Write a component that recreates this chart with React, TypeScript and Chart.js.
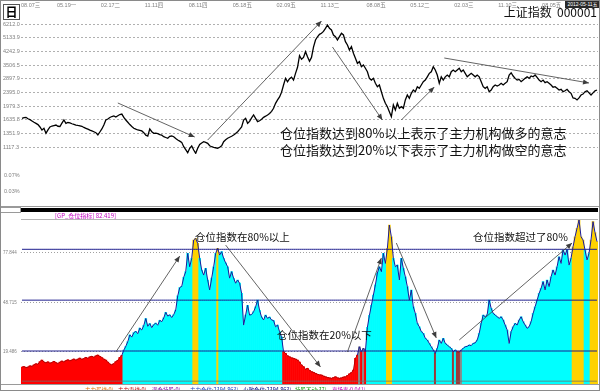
import React, { useEffect, useRef } from "react";
import { Chart, registerables } from "chart.js";
Chart.register(...registerables);

// ---- data ----
const priceTicks = [6212.0, 5647.2, 5133.9, 4667.1, 4242.9, 3857.1, 3506.5, 3187.7, 2897.9, 2634.5, 2395.0, 2177.3, 1979.3, 1799.4, 1635.8, 1487.1, 1351.9, 1229.0, 1117.3, 1015.7];
const volLabels = ["0.07%", "0.03%"];
const dateLabels = ["08.07三", "05.19一", "02.17二", "11.11四", "08.11四", "05.18五", "02.09五", "11.13二", "08.08五", "05.12二", "02.03三", "11.10三", "08.05五"];
const dateIdx = [0, 18, 40, 62, 84, 106, 128, 150, 173, 195, 217, 239, 261];
const lastDate = "2012-05-11五";

const price = [
  1670, 1685, 1693, 1660, 1640, 1610, 1580, 1557, 1530, 1480,
  1419, 1453, 1355, 1420, 1480, 1500, 1510, 1521, 1495, 1490,
  1560, 1631, 1557, 1575, 1565, 1548, 1535, 1521, 1512, 1505,
  1495, 1470, 1453, 1435, 1415, 1400, 1385, 1367, 1324, 1380,
  1440, 1521, 1631, 1655, 1690, 1712, 1725, 1700, 1730, 1760,
  1772, 1690, 1631, 1580, 1530, 1490, 1453, 1435, 1419, 1410,
  1400, 1367, 1320, 1305, 1440, 1386, 1355, 1360, 1350, 1330,
  1320, 1292, 1278, 1265, 1300, 1305, 1292, 1260, 1234, 1215,
  1195, 1124, 1080, 1034, 1100, 1136, 1074, 1025, 1100, 1160,
  1185, 1206, 1195, 1179, 1140, 1124, 1113, 1108, 1100, 1115,
  1140, 1206, 1240, 1265, 1282, 1300, 1324, 1350, 1386, 1430,
  1480, 1631, 1670, 1557, 1600, 1680, 1749, 1670, 1593, 1615,
  1650, 1693, 1720, 1749, 1785, 1840, 1920, 2058, 2157, 2250,
  2400, 2657, 2913, 2780, 2900, 2960, 2843, 3124, 3400, 4000,
  3800, 3900, 4223, 3939, 3700, 3900, 4500, 4971, 5200, 5380,
  5456, 5600, 5850, 6125, 5851, 5714, 5330, 5205, 4971, 5205,
  5456, 5330, 4855, 4637, 4325, 4529, 4130, 3853, 3592, 3675,
  3427, 3509, 3352, 3195, 2913, 2843, 2913, 2719, 2594, 2657,
  2419, 2206, 2058, 1963, 1830, 1707, 2010, 1875, 2058, 1920,
  1963, 1920, 2157, 2310, 2206, 2366, 2477, 2419, 2594, 2536,
  2657, 2780, 2843, 2977, 3124, 3195, 3427, 3273, 3052, 2719,
  2977, 2843, 2977, 3052, 2977, 3195, 3273, 3195, 3273, 3352,
  3195, 3273, 3124, 2977, 3052, 3124, 3052, 2977, 3052, 2977,
  2780, 2594, 2536, 2594, 2419, 2477, 2594, 2657, 2620, 2657,
  2719, 2657, 2719, 2780, 3052, 3150, 3010, 2913, 2843, 2870,
  2780, 2843, 2913, 2977, 2913, 3010, 2977, 3052, 2950, 2843,
  2780, 2843, 2742, 2780, 2719, 2657, 2575, 2594, 2536, 2477,
  2500, 2419, 2450, 2500, 2419, 2366, 2218, 2206, 2157, 2218,
  2310, 2340, 2419, 2450, 2380, 2310, 2380, 2450, 2477,
];

const position = [
  10.5, 10.8, 10.2, 10.5, 11.2, 11, 11.8, 12.5, 12.2, 13.8,
  14.7, 13.5, 13, 13.6, 12.8, 13.2, 13.9, 13.1, 12.6, 13.4,
  14.1, 13.5, 14.3, 14.8, 14.2, 14.7, 15.3, 14.6, 15.2, 15.8,
  15.1, 15.6, 16.2, 15.7, 16.5, 16.9, 16.3, 17.1, 17.6, 16.8,
  16.1, 15.2, 14.6, 13.5, 12.3, 11.8, 12.6, 13.7, 14.5, 16.2,
  17.4, 20.5, 22.8, 25.6, 29.5, 28.2, 30.8, 31.6, 30.2, 33.5,
  32.4, 35.1, 39.2, 34.6, 36.2, 33.8, 35.6, 36.4, 35.2, 38.1,
  37.3, 39.5, 42.8, 40.6, 41.3, 39.8, 41.5, 44.2, 52.5, 57.4,
  58.1, 63.5, 66.8, 77.6, 69.7, 74.7, 85.5, 86.5, 83.5, 74.7,
  67.8, 64.8, 68.8, 61.9, 56, 63, 69.7, 77.6, 80.6, 76.6,
  78.6, 74.7, 72, 69.7, 63, 66.8, 62.9, 60, 61.9, 60,
  54, 35.3, 41.2, 47, 41.2, 41.5, 43.2, 46, 50, 44,
  40, 38.3, 41.2, 39.3, 40, 38.3, 38, 34.3, 35.3, 31.4,
  28.4, 19.6, 18.6, 17.2, 16.6, 16, 15.7, 15.2, 14.7, 13.5,
  11.7, 10.8, 9.2, 9.8, 8.6, 7.8, 7.4, 6.8, 6.3, 5.9,
  5.8, 5.2, 4.8, 4.4, 4.1, 3.9, 4.3, 4.8, 4.2, 3.9,
  4.1, 4.6, 4.8, 5.5, 6.5, 7.2, 8.8, 15.7, 17.6, 22.5,
  19.6, 21.6, 19.8, 34, 41, 47, 53, 59, 66, 69.7,
  66.8, 77.6, 71.7, 80.5, 94.3, 87.4, 74.7, 69.7, 70.7, 61.9,
  74.7, 68.8, 63.8, 58, 50, 56, 46, 42.2, 36.3, 34.3,
  31.4, 30.4, 27.5, 26.5, 24.5, 22.5, 20.6, 18.6, 21.6, 26.5,
  24.5, 27.5, 24.5, 23.5, 22.5, 21.6, 19.6, 20.6, 19.6, 19.4,
  20.6, 21.6, 22.5, 22.8, 23.5, 23.2, 24.5, 24.8, 26.5, 30.4,
  36.3, 41.2, 40.2, 41.5, 50, 45.2, 42.2, 41.2, 40.2, 39.3,
  40.2, 38.3, 35.3, 32.4, 24.5, 31.4, 34.3, 36.3, 35.3, 38.3,
  40.2, 37.3, 35.3, 33.4, 34.3, 37.3, 42.2, 46.1, 50, 54,
  57, 60.9, 56, 61.9, 58, 63.8, 67.8, 64.8, 69.7, 75.6,
  71.7, 79.6, 76.6, 79.8, 70.7, 74.7, 81.5, 87.4, 92.4, 97.3,
  87.4, 85.5, 79.6, 73.7, 77.6, 85.5, 96.3, 89.9, 84.5,
];

const posTicks = [77.844, 48.715, 19.486];
const levels = [80, 50, 20];
const baseLevel = 2.2;
const highLevel = 80;
const lowLevel = 20;
const grayIdx = [169, 171, 220];
const brownIdx = [207, 216, 218, 219];

// arrows in data space: [index, value]
const topArrows = [
  { from: [48, 2067], to: [86.5, 1287] },
  { from: [93, 1234], to: [150, 6477] },
  { from: [155.5, 4510], to: [180.5, 1631] },
  { from: [190, 1631], to: [206.5, 2583] },
  { from: [211.5, 3868], to: [284, 2731] },
];
const bottomArrows = [
  { from: [47, 19.4], to: [79, 76.0] },
  { from: [102, 82.5], to: [149.5, 10.6] },
  { from: [163, 19.4], to: [180, 74.9] },
  { from: [187.5, 83.7], to: [207.5, 27.7] },
  { from: [219, 26.5], to: [275.5, 83.7] },
];

const legendItems = [
  { text: "主力买线:0]", color: "#e07000", x: 85 },
  { text: "主力卖线:0]", color: "#c00000", x: 118 },
  { text: "满仓持股:0]", color: "#8000a0", x: 152 },
  { text: "主力仓位:2394.863]", color: "#2040c0", x: 190 },
  { text: "小散仓位:2394.863]", color: "#000080", x: 243 },
  { text: "持股不动:37]", color: "#00a000", x: 295 },
  { text: "离场率:0.041]", color: "#c000c0", x: 332 },
];

const labels = price.map((_, i) => i);
const CJK = '"Noto Sans CJK SC", "Noto Sans", sans-serif';
const SMALL = '"Liberation Sans", "Noto Sans CJK SC", sans-serif';

function arrowPlugin(id: string, arrows: { from: number[]; to: number[] }[]) {
  return {
    id,
    afterDatasetsDraw(chart: any) {
      const { ctx, scales } = chart;
      const xs = scales.x, ys = scales.y;
      ctx.save();
      ctx.strokeStyle = "#3c3c3c";
      ctx.fillStyle = "#3c3c3c";
      ctx.lineWidth = 0.8;
      for (const a of arrows) {
        const x1 = xs.getPixelForValue(a.from[0]);
        const y1 = ys.getPixelForValue(a.from[1]);
        const x2 = xs.getPixelForValue(a.to[0]);
        const y2 = ys.getPixelForValue(a.to[1]);
        ctx.beginPath();
        ctx.moveTo(x1, y1);
        ctx.lineTo(x2, y2);
        ctx.stroke();
        const ang = Math.atan2(y2 - y1, x2 - x1);
        const L = 6, W = 2.6;
        ctx.beginPath();
        ctx.moveTo(x2, y2);
        ctx.lineTo(x2 - L * Math.cos(ang) + W * Math.sin(ang), y2 - L * Math.sin(ang) - W * Math.cos(ang));
        ctx.lineTo(x2 - L * Math.cos(ang) - W * Math.sin(ang), y2 - L * Math.sin(ang) + W * Math.cos(ang));
        ctx.closePath();
        ctx.fill();
      }
      ctx.restore();
    },
  };
}

// date labels along the top, placed through the x scale
const dateLabelPlugin = {
  id: "dateLabels",
  afterDraw(chart: any) {
    const { ctx, scales } = chart;
    ctx.save();
    ctx.font = `5.5px ${SMALL}`;
    ctx.fillStyle = "#808080";
    ctx.textAlign = "left";
    ctx.textBaseline = "middle";
    dateIdx.forEach((idx, k) => {
      const x = scales.x.getPixelForValue(idx) - 1;
      ctx.fillText(dateLabels[k], x, 5.5);
    });
    ctx.restore();
  },
};

export default function App() {
  const topRef = useRef<HTMLCanvasElement>(null);
  const botRef = useRef<HTMLCanvasElement>(null);

  useEffect(() => {
    document.body.style.margin = "0";
    const top = new Chart(topRef.current!, {
      type: "line",
      data: {
        labels,
        datasets: [
          {
            data: price,
            borderColor: "#000000",
            borderWidth: 1.3,
            pointRadius: 0,
            tension: 0,
          },
        ],
      },
      options: {
        animation: false,
        responsive: false,
        events: [],
        layout: { padding: { left: 3, right: 2, top: 24, bottom: 51 } },
        plugins: { legend: { display: false }, tooltip: { enabled: false } },
        scales: {
          x: {
            type: "category",
            display: false,
            offset: true,
          },
          y: {
            type: "logarithmic",
            min: 1015.7,
            max: 6212,
            afterFit: (s: any) => { s.width = 18; },
            afterBuildTicks: (s: any) => { s.ticks = priceTicks.map((v) => ({ value: v })); },
            grid: { color: "#b0b0b0", lineWidth: 1, drawTicks: false },
            border: { display: false, dash: [2, 2] },
            ticks: {
              crossAlign: "far",
              padding: 0,
              color: "#808080",
              font: { size: 5.5, family: SMALL },
              callback: (v: any) => Number(v).toFixed(1),
            },
          },
        },
      },
      plugins: [arrowPlugin("topArrows", topArrows), dateLabelPlugin],
    } as any);

    const barColors = position.map((v, i) =>
      grayIdx.includes(i) ? "#8a8a8a" : brownIdx.includes(i) ? "#9b3a3a" : v >= highLevel ? "#FFD200" : v < lowLevel ? "#FF0000" : "#00FFFF"
    );

    const bot = new Chart(botRef.current!, {
      type: "bar",
      data: {
        labels,
        datasets: [
          {
            type: "line",
            data: position,
            borderWidth: 1,
            pointRadius: 0,
            tension: 0,
            borderColor: "#1a1a9a",
            segment: {
              borderColor: (c: any) => (c.p0.parsed.y < lowLevel && c.p1.parsed.y < lowLevel ? "#b00000" : "#1a1a9a"),
            },
            order: 0,
          },
          ...levels.map((lv) => ({
            type: "line",
            data: labels.map(() => lv),
            borderColor: "#1c1c8c",
            borderWidth: 1,
            pointRadius: 0,
            order: 0,
          })),
          {
            type: "line",
            data: labels.map(() => baseLevel),
            borderColor: "rgba(110,110,110,0.8)",
            borderWidth: 1,
            pointRadius: 0,
            order: 0,
          },
          {
            type: "bar",
            data: position,
            backgroundColor: barColors,
            borderWidth: 0,
            barPercentage: 1,
            categoryPercentage: 1,
            order: 5,
          },
        ],
      },
      options: {
        animation: false,
        responsive: false,
        events: [],
        layout: { padding: { left: 3, right: 2, top: 10.4, bottom: 6.1 } },
        plugins: { legend: { display: false }, tooltip: { enabled: false } },
        scales: {
          x: { type: "category", display: false, offset: true },
          y: {
            type: "linear",
            min: 0,
            max: 100,
            afterFit: (s: any) => { s.width = 18; },
            afterBuildTicks: (s: any) => { s.ticks = posTicks.map((v) => ({ value: v })); },
            grid: { color: "#a0a0a0", lineWidth: 1, drawTicks: false },
            border: { display: false, dash: [1, 2] },
            ticks: {
              crossAlign: "far",
              padding: 0,
              color: "#808080",
              font: { size: 4.5, family: SMALL },
              callback: (v: any) => Number(v).toFixed(3),
            },
          },
        },
      },
      plugins: [arrowPlugin("botArrows", bottomArrows)],
    } as any);

    return () => {
      top.destroy();
      bot.destroy();
    };
  }, []);

  const abs = (s: React.CSSProperties): React.CSSProperties => ({ position: "absolute", whiteSpace: "nowrap", ...s });

  return (
    <div style={{ position: "relative", width: 600, height: 391, background: "#fff", overflow: "hidden" }}>
      <canvas ref={topRef} width={600} height={205} style={abs({ left: 0, top: 0, width: 600, height: 205 })} />
      <canvas ref={botRef} width={600} height={186} style={abs({ left: 0, top: 205, width: 600, height: 186 })} />

      {/* top panel texts */}
      <div style={abs({ left: 3, top: 4, width: 15, height: 14, border: "1px solid #555", background: "#fff", font: `bold 12px ${CJK}`, lineHeight: "14px", textAlign: "center", color: "#000" })}>日</div>
      <div style={abs({ left: 565, top: 0, width: 35, height: 8, background: "#2a2a2a", color: "#fff", font: `5px ${SMALL}`, lineHeight: "8px", textAlign: "center" })}>{lastDate}</div>
      <div style={abs({ right: 3, top: 6, font: `12px ${CJK}`, lineHeight: "12px", color: "#111" })}>上证指数&nbsp;&nbsp;000001</div>
      <div style={abs({ left: 4, top: 172, font: `5.5px ${SMALL}`, color: "#808080", lineHeight: "6px" })}>{volLabels[0]}</div>
      <div style={abs({ left: 4, top: 188, font: `5.5px ${SMALL}`, color: "#808080", lineHeight: "6px" })}>{volLabels[1]}</div>
      <div style={abs({ left: 280, top: 126, font: `13px ${CJK}`, lineHeight: "13px", color: "#111" })}>仓位指数达到80%以上表示了主力机构做多的意志</div>
      <div style={abs({ left: 280, top: 142.5, font: `13px ${CJK}`, lineHeight: "13px", color: "#111" })}>仓位指数达到20%以下表示了主力机构做空的意志</div>

      {/* separator */}
      <div style={abs({ left: 0, top: 206, width: 600, height: 1, background: "#9a9a9a" })} />
      <div style={abs({ left: 0, top: 207, width: 19, height: 4, border: "1px solid #9a9a9a", background: "#fff" })} />
      <div style={abs({ left: 21, top: 208, width: 577, height: 4, background: "#000" })} />
      <div style={abs({ left: 55, top: 213, font: `6px ${CJK}`, lineHeight: "6px", color: "#c000c0" })}>[GP_仓位指标] 82.419]</div>
      <div style={abs({ left: 21, top: 219, width: 577, height: 1, background: "#b4b4b4" })} />

      {/* bottom annotations */}
      <div style={abs({ left: 195, top: 230.5, font: `10.5px ${CJK}`, lineHeight: "11px", color: "#111" })}>仓位指数在80%以上</div>
      <div style={abs({ left: 277, top: 328.5, font: `10.5px ${CJK}`, lineHeight: "11px", color: "#111" })}>仓位指数在20%以下</div>
      <div style={abs({ left: 473, top: 230.5, font: `10.5px ${CJK}`, lineHeight: "11px", color: "#111" })}>仓位指数超过了80%</div>

      {/* bottom frame + legend */}
      <div style={abs({ left: 0, top: 384, width: 600, height: 1, background: "#9a9a9a" })} />
      {legendItems.map((it) => (
        <div key={it.text} style={abs({ left: it.x, top: 386, font: `5.5px ${CJK}`, lineHeight: "8px", color: it.color })}>{it.text}</div>
      ))}

      {/* outer frame */}
      <div style={abs({ left: 0, top: 0, width: 600, height: 391, boxSizing: "border-box", border: "1px solid #8a8a8a", pointerEvents: "none" })} />
    </div>
  );
}
